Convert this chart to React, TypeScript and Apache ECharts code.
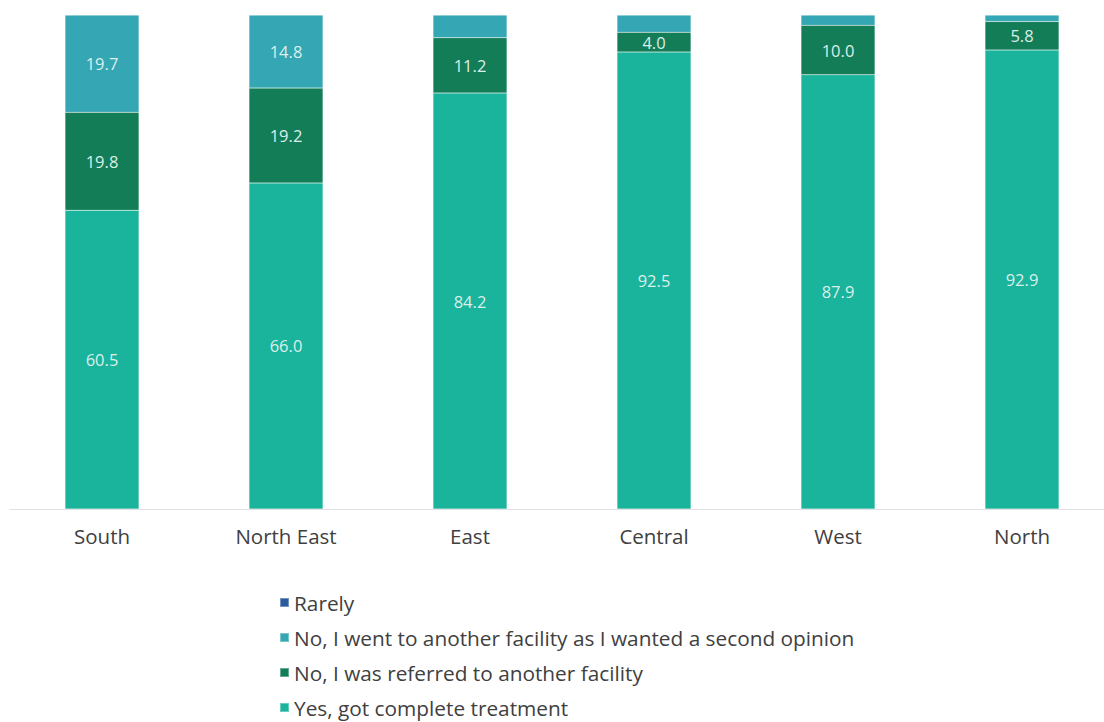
import React, { useEffect, useRef } from "react";
import * as echarts from "echarts";

const categories = ["South", "North East", "East", "Central", "West", "North"];
const yesComplete = [60.5, 66.0, 84.2, 92.5, 87.9, 92.9];
const referred = [19.8, 19.2, 11.2, 4.0, 10.0, 5.8];
const secondOpinion = [19.7, 14.8, 4.6, 3.5, 2.1, 1.3];
const rarely = [0, 0, 0, 0, 0, 0];

const seriesNames = {
  rarely: "Rarely",
  second: "No, I went to another facility as I wanted a second opinion",
  referred: "No, I was referred to another facility",
  yes: "Yes, got complete treatment",
};

export default function App() {
  const ref = useRef<HTMLDivElement>(null);
  useEffect(() => {
    if (!ref.current) return;
    const chart = echarts.init(ref.current, undefined, { renderer: "svg" });
    const labelStyle = (min: number) => ({
      show: true,
      position: "inside" as const,
      color: "#dcefeb",
      fontSize: 16.5,
      fontFamily: "Open Sans",
      formatter: (p: any) => (p.value >= min ? Number(p.value).toFixed(1) : ""),
    });
    const common = {
      type: "bar" as const,
      stack: "total",
      barWidth: 74,
      itemStyle: { borderColor: "rgba(255,255,255,0.35)", borderWidth: 0.5 },
    };
    chart.setOption({
      animation: false,
      textStyle: { fontFamily: "Open Sans" },
      grid: { left: 10, right: 0, top: 15, bottom: 213 },
      legend: {
        orient: "vertical",
        left: 279,
        top: 592,
        height: 130,
        padding: 0,
        itemWidth: 9,
        itemHeight: 9,
        itemGap: 14,
        icon: "rect",
        textStyle: { fontSize: 20.8, lineHeight: 21, color: "#404040", fontFamily: "Open Sans" },
        data: [seriesNames.rarely, seriesNames.second, seriesNames.referred, seriesNames.yes],
      },
      xAxis: {
        type: "category",
        data: categories,
        axisLine: { lineStyle: { color: "#e0e0e0", width: 1 } },
        axisTick: { show: false },
        axisLabel: { color: "#404040", fontSize: 20.5, margin: 16, fontFamily: "Open Sans" },
      },
      yAxis: {
        type: "value",
        min: 0,
        max: 100,
        show: false,
        splitLine: { show: false },
      },
      series: [
        { ...common, name: seriesNames.yes, data: yesComplete, itemStyle: { ...common.itemStyle, color: "#1ab39b" }, label: labelStyle(0) },
        { ...common, name: seriesNames.referred, data: referred, itemStyle: { ...common.itemStyle, color: "#137d57" }, label: labelStyle(0) },
        { ...common, name: seriesNames.second, data: secondOpinion, itemStyle: { ...common.itemStyle, color: "#35a6b3" }, label: labelStyle(5) },
        { ...common, name: seriesNames.rarely, data: rarely, itemStyle: { ...common.itemStyle, color: "#2c5a9e" }, label: { show: false } },
      ],
    });
    return () => chart.dispose();
  }, []);
  return (
    <div style={{ position: "fixed", left: 0, top: 0, width: 1104, height: 722, overflow: "hidden", background: "#fff" }}>
      <div ref={ref} style={{ width: 1114, height: 722 }} />
    </div>
  );
}
